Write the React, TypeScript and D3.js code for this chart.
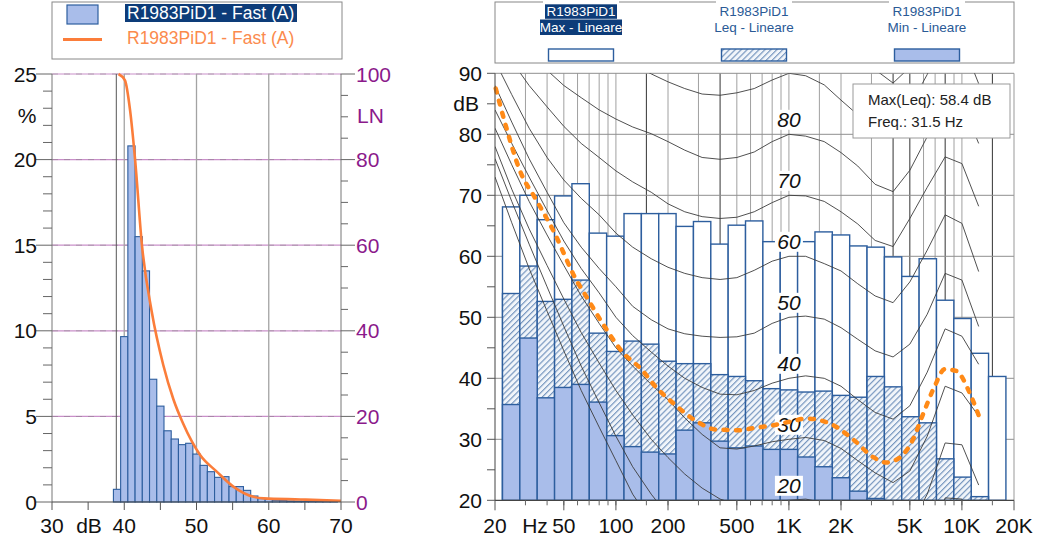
import React, { useEffect, useRef } from "react"
import * as d3 from "d3"

// ---- left chart: level distribution (Fast A) ----
const histLevels = [39, 40, 41, 42, 43, 44, 45, 46, 47, 48, 49, 50, 51, 52, 53, 54, 55, 56, 57, 58, 59, 60, 61, 62, 63, 64, 65, 66, 67, 68, 69]
const histPercent = [0.74, 9.66, 20.8, 15.5, 13.5, 7.17, 5.6, 4.16, 3.68, 3.35, 3.43, 2.8, 2.14, 1.77, 1.44, 1.48, 0.9, 0.9, 0.68, 0.35, 0.2, 0.15, 0.1, 0.08, 0.06, 0.05, 0.04, 0.03, 0.03, 0.02, 0.02]
const lnLevels = [39.2, 40.1, 40.8, 41.5, 42.45, 43.8, 45.4, 46.8, 48.1, 50.5, 52.8, 55.1, 57.9, 59.3, 64.4, 70]
const lnValues = [100, 98.5, 91.6, 80, 60, 44.5, 32, 24, 18.5, 11, 7.1, 3.6, 1.2, 0.85, 0.6, 0.3]
const minLevelMarker = 38.9
const pctTicks = [0, 5, 10, 15, 20, 25]
const lnTicks = [0, 20, 40, 60, 80, 100]
const dbTicks = [30, 40, 50, 60, 70]

// ---- right chart: 1/3 octave spectrum ----
const bandLabels = ["25", "31.5", "40", "50", "63", "80", "100", "125", "160", "200", "250", "315", "400", "500", "630", "800", "1K", "1.25K", "1.6K", "2K", "2.5K", "3.15K", "4K", "5K", "6.3K", "8K", "10K", "12.5K", "16K"]
const maxLevels = [68.1, 70.0, 66.0, 69.9, 71.9, 63.8, 63.3, 67.0, 67.0, 67.0, 64.9, 65.7, 62.0, 65.1, 65.8, 62.4, 62.2, 62.4, 64.0, 63.5, 61.7, 61.5, 59.9, 56.7, 59.6, 52.8, 49.8, 44.1, 40.3]
const leqLevels = [53.9, 58.4, 52.6, 52.95, 56.1, 47.4, 44.4, 46.1, 45.6, 42.8, 42.4, 42.4, 40.6, 40.3, 39.6, 38.3, 38.1, 37.75, 37.9, 37.2, 36.9, 40.3, 38.6, 33.7, 32.7, 26.8, 23.8, 20.6, 19.5]
const minLevels = [35.7, 46.6, 36.8, 38.5, 39.0, 36.1, 30.6, 28.8, 27.9, 27.6, 31.5, 32.7, 29.7, 28.6, 28.9, 28.35, 28.35, 27.1, 25.5, 23.7, 21.5, 20.3, 19, 19, 19, 19, 19, 19, 19]

// dashed reference curve
const refFreqs = [20.2, 23.2, 27.8, 34.7, 43.3, 60.4, 64.5, 84.2, 110, 140, 171, 219, 291, 380, 519, 637, 774, 1056, 1260, 1720, 2346, 3062, 3654, 4368, 5216, 5957, 6960, 7952, 9280, 11090, 12660]
const refLevels = [87.5, 81.2, 74.1, 69.2, 64.3, 55.6, 54.3, 48.9, 44.2, 41.5, 38.5, 35.7, 33.0, 31.6, 31.5, 31.9, 32.2, 33.0, 33.4, 32.6, 30.0, 27.1, 26.2, 27.0, 30.0, 34.1, 38.7, 41.5, 41.2, 37.6, 33.5]

// isophones
const isoFreqs = [20, 25, 31.5, 40, 50, 63, 80, 100, 125, 160, 200, 250, 315, 400, 500, 630, 800, 1000, 1250, 1600, 2000, 2500, 3150, 4000, 5000, 6300, 8000, 10000, 12500]
const phon0 = [73, 65.5, 58, 51, 44.5, 38, 32, 26.5, 21, 16.5, 13, 10.5, 8, 6, 4.5, 3, 2, 1, 0.5, 0, -1, -3, -5, -6, -4, 1, 11, 12, 9]
const phon10 = [76, 69, 62, 55, 48.5, 42, 36, 30.5, 25.5, 21, 17.5, 15, 12.5, 11, 10, 9.7, 9.8, 10, 10.2, 9.6, 8.3, 6, 4, 3, 5.5, 11.5, 20.4, 20.2, 12.5]
const phon20 = [78, 71, 64.5, 58.5, 53, 47.5, 42.5, 38, 34, 30, 27, 24.3, 22, 20.2, 19.3, 19.4, 19.8, 20, 20.2, 19.6, 18.3, 16, 14, 13, 15.5, 21, 29.4, 29.1, 22.5]
const phon30 = [81, 75, 69, 63.5, 58.5, 53.5, 49, 45, 42, 39, 36.5, 33.5, 30.8, 28.6, 28.4, 28.9, 29.6, 30, 30.3, 29.8, 28.5, 26.5, 24.5, 22.9, 24.8, 30.5, 38.7, 37.6, 33.8]
const phon40 = [84, 78.5, 73, 67.5, 62.5, 58, 54, 50, 47, 44.3, 42, 40, 38.5, 37.4, 37.3, 38, 39.2, 40, 40.4, 40, 38.7, 36.5, 34.4, 33.3, 35.5, 41, 48.1, 46.9, 42.3]
const phon50 = [88, 82, 76, 70.5, 65.5, 61.5, 58, 55, 51.8, 49.6, 48.1, 47.3, 46.9, 46.7, 46.8, 47.4, 49, 50, 50.2, 49.7, 48.3, 46.4, 44.5, 43.5, 45.6, 50.5, 57.2, 56.1, 48.5]
const phon60 = [92, 86.5, 81, 76.2, 72.5, 69.5, 66.8, 63.8, 61.5, 59.6, 58.2, 57.2, 56.5, 56.2, 56.5, 57.7, 59.2, 60, 60, 58.8, 57.6, 55.5, 53.5, 52.4, 55.8, 61, 66.8, 65.4, 57.5]
const phon70 = [96, 92, 88, 84.5, 81.3, 78.5, 76.2, 74, 72.2, 70.5, 68.6, 67.3, 66.5, 66.2, 66.4, 67.3, 68.8, 70, 69.9, 69, 67.3, 65.3, 62.6, 61.6, 66.2, 71.3, 76.3, 75.2, 68.2]
const phon80 = [100, 96, 93, 90.5, 88, 86, 84, 82.5, 81.2, 80.1, 78.8, 77.4, 76.2, 75.9, 76.2, 77.1, 78.8, 80, 79.7, 78.8, 77, 74.8, 71.8, 70.6, 74.1, 79.6, 86.3, 85.2, 78.5]
const phon90 = [104, 101, 99, 97, 95.5, 94.5, 93.5, 92.7, 91.5, 89.9, 88.6, 87.5, 86.6, 86.4, 86.8, 87.5, 88.9, 90, 89.6, 88.1, 85.6, 83.2, 81.5, 80.8, 84.6, 89.8, 96.3, 95.2, 88.3]
const phon100 = [108, 105, 103, 101, 100, 99, 98.5, 98, 97.5, 97, 96.5, 96, 95.8, 95.8, 96.2, 97, 98.8, 100, 99.6, 98.5, 96.5, 94, 90.6, 88.4, 91, 98, 105, 104, 98]
const isophones = [phon0, phon10, phon20, phon30, phon40, phon50, phon60, phon70, phon80, phon90, phon100]
const phonLabels = [20, 30, 40, 50, 60, 70, 80]

const gridFreqs = [30, 40, 50, 60, 70, 80, 90, 100, 150, 200, 300, 400, 500, 600, 700, 800, 900, 1000, 1500, 2000, 3000, 4000, 5000, 6000, 7000, 8000, 9000, 10000, 15000]
const darkGridFreqs = [150, 400, 4000, 5000, 8000, 15000]
const freqTickLabels = [[20, "20"], [50, "50"], [100, "100"], [200, "200"], [500, "500"], [1000, "1K"], [2000, "2K"], [5000, "5K"], [10000, "10K"], [20000, "20K"]]
const splTicks = [20, 30, 40, 50, 60, 70, 80, 90]

const FONT = "Liberation Sans, Arial, sans-serif"
const BAR_BLUE = "#a9bdea"
const EDGE_BLUE = "#2d5e9e"
const PURPLE = "#8b1a8b"
const LABEL_Y = 525

function drawLeft(svg: any) {
  const x = d3.scaleLinear().domain([30, 70]).range([52, 341])
  const y = d3.scaleLinear().domain([0, 25]).range([502, 74])
  const yLN = d3.scaleLinear().domain([0, 100]).range([502, 74])
  const g = svg.append("g").attr("font-family", FONT)

  // horizontal grid (purple + grey dashes)
  const hg = pctTicks.filter(d => d > 0)
  g.append("g").selectAll("line").data(hg).join("line")
    .attr("x1", x(30)).attr("x2", x(70)).attr("y1", (d: number) => y(d)).attr("y2", (d: number) => y(d))
    .attr("stroke", "#c98fc9").attr("stroke-width", 1.2)
  g.append("g").selectAll("line").data(hg).join("line")
    .attr("x1", x(30)).attr("x2", x(70)).attr("y1", (d: number) => y(d)).attr("y2", (d: number) => y(d))
    .attr("stroke", "#777").attr("stroke-width", 0.8).attr("stroke-dasharray", "6 6").attr("opacity", 0.55)

  // vertical grid
  g.append("g").selectAll("line").data([40, 50, 60]).join("line")
    .attr("x1", (d: number) => x(d)).attr("x2", (d: number) => x(d)).attr("y1", y(25)).attr("y2", y(0))
    .attr("stroke", "#a3a3a3").attr("stroke-width", 1.3)
  g.append("line").attr("x1", x(minLevelMarker)).attr("x2", x(minLevelMarker)).attr("y1", y(25)).attr("y2", y(0))
    .attr("stroke", "#555").attr("stroke-width", 1)

  // bars
  g.append("g").selectAll("rect").data(histLevels).join("rect")
    .attr("x", (d: number) => x(d - 0.5)).attr("width", (d: number) => x(d + 0.5) - x(d - 0.5))
    .attr("y", (d: number, i: number) => y(histPercent[i])).attr("height", (d: number, i: number) => y(0) - y(histPercent[i]))
    .attr("fill", BAR_BLUE).attr("stroke", EDGE_BLUE).attr("stroke-width", 1.1)

  // LN curve
  const line = d3.line<number>().x((d, i) => x(lnLevels[i])).y(d => yLN(d)).curve(d3.curveMonotoneX)
  g.append("path").attr("d", line(lnValues)).attr("fill", "none").attr("stroke", "#fb7d3a").attr("stroke-width", 2.6)

  // axes lines
  g.append("line").attr("x1", x(30)).attr("x2", x(30)).attr("y1", y(25)).attr("y2", y(0)).attr("stroke", "#777")
  g.append("line").attr("x1", x(70)).attr("x2", x(70)).attr("y1", y(25)).attr("y2", y(0)).attr("stroke", "#777")
  g.append("line").attr("x1", x(30)).attr("x2", x(70)).attr("y1", y(0)).attr("y2", y(0)).attr("stroke", "#444").attr("stroke-width", 1.2)

  // left ticks
  const minorPct = d3.range(0, 26)
  g.append("g").selectAll("line").data(minorPct).join("line")
    .attr("x1", (d: number) => (d % 5 === 0 ? x(30) - 16 : x(30) - 9)).attr("x2", x(30))
    .attr("y1", (d: number) => y(d)).attr("y2", (d: number) => y(d)).attr("stroke", "#666")
  g.append("g").selectAll("text").data(pctTicks).join("text")
    .attr("x", 37).attr("y", (d: number) => y(d)).attr("dy", "0.36em").attr("text-anchor", "end")
    .attr("font-size", 21).attr("fill", "#111").text((d: number) => d)
  g.append("text").attr("x", 27).attr("y", 115).attr("dy", "0.36em").attr("text-anchor", "middle")
    .attr("font-size", 21).attr("fill", "#111").text("%")

  // right ticks (LN)
  const minorLN = d3.range(0, 101, 5)
  g.append("g").selectAll("line").data(minorLN).join("line")
    .attr("x1", x(70)).attr("x2", (d: number) => (d % 20 === 0 ? x(70) + 14 : x(70) + 7))
    .attr("y1", (d: number) => yLN(d)).attr("y2", (d: number) => yLN(d)).attr("stroke", "#666")
  g.append("g").selectAll("text").data(lnTicks).join("text")
    .attr("x", 356).attr("y", (d: number) => yLN(d)).attr("dy", "0.36em")
    .attr("font-size", 21).attr("fill", PURPLE).text((d: number) => d)
  g.append("text").attr("x", 357).attr("y", 115).attr("dy", "0.36em")
    .attr("font-size", 21).attr("fill", PURPLE).text("LN")

  // bottom ticks
  g.append("g").selectAll("line").data(d3.range(30, 71, 5)).join("line")
    .attr("x1", (d: number) => x(d)).attr("x2", (d: number) => x(d)).attr("y1", y(0)).attr("y2", y(0) + 8).attr("stroke", "#555")
  g.append("g").selectAll("text").data(dbTicks).join("text")
    .attr("x", (d: number) => x(d)).attr("y", LABEL_Y).attr("dy", "0.36em").attr("text-anchor", "middle")
    .attr("font-size", 21).attr("fill", "#111").text((d: number) => d)
  g.append("text").attr("x", 89).attr("y", LABEL_Y).attr("dy", "0.36em").attr("text-anchor", "middle")
    .attr("font-size", 21).attr("fill", "#111").text("dB")

  // legend
  const lg = g.append("g")
  lg.append("rect").attr("x", 52).attr("y", 2).attr("width", 290).attr("height", 57).attr("fill", "#fff").attr("stroke", "#888")
  lg.append("rect").attr("x", 67).attr("y", 5).attr("width", 31).attr("height", 19).attr("fill", BAR_BLUE).attr("stroke", EDGE_BLUE).attr("stroke-width", 1.2)
  lg.append("rect").attr("x", 125).attr("y", 4).attr("width", 172).attr("height", 18).attr("fill", "#0d3c79")
  lg.append("text").attr("x", 127).attr("y", 13).attr("dy", "0.36em").attr("font-size", 17.5).attr("fill", "#fff").text("R1983PiD1 - Fast (A)")
  lg.append("line").attr("x1", 63).attr("x2", 102).attr("y1", 39.5).attr("y2", 39.5).attr("stroke", "#fb7d3a").attr("stroke-width", 3)
  lg.append("text").attr("x", 127).attr("y", 38).attr("dy", "0.36em").attr("font-size", 17.5).attr("fill", "#fb8a4c").text("R1983PiD1 - Fast (A)")
}

function drawRight(svg: any) {
  const x = d3.scaleLog().domain([20, 20000]).range([495, 1014])
  const y = d3.scaleLinear().domain([20, 90]).range([500.3, 73.3])
  const g = svg.append("g").attr("font-family", FONT)

  const defs = svg.append("defs")
  defs.append("clipPath").attr("id", "plotClip").append("rect")
    .attr("x", 495).attr("y", y(90)).attr("width", 519).attr("height", y(20) - y(90))
  const pat = defs.append("pattern").attr("id", "hatch").attr("patternUnits", "userSpaceOnUse")
    .attr("width", 4.2).attr("height", 4.2).attr("patternTransform", "rotate(45)")
  pat.append("rect").attr("width", 4.2).attr("height", 4.2).attr("fill", "#f1f5fa")
  pat.append("line").attr("x1", 0.6).attr("x2", 0.6).attr("y1", 0).attr("y2", 4.2).attr("stroke", "#6d8fbb").attr("stroke-width", 1.1)

  // grid
  g.append("g").selectAll("line").data(gridFreqs).join("line")
    .attr("x1", (d: number) => x(d)).attr("x2", (d: number) => x(d)).attr("y1", y(90)).attr("y2", y(20))
    .attr("stroke", (d: number) => (darkGridFreqs.includes(d) ? "#333" : "#a0a0a0")).attr("stroke-width", 1)
  g.append("g").selectAll("line").data([30, 40, 50, 60, 70, 80, 90]).join("line")
    .attr("x1", x(20)).attr("x2", x(20000)).attr("y1", (d: number) => y(d)).attr("y2", (d: number) => y(d))
    .attr("stroke", "#8f8f8f").attr("stroke-width", 1)
  g.append("line").attr("x1", x(20000)).attr("x2", x(20000)).attr("y1", y(90)).attr("y2", y(20)).attr("stroke", "#999")

  // bars: exact 1/3 octave band edges around 1 kHz (index 16)
  const lo = (i: number) => x(1000 * Math.pow(2, (i - 16) / 3 - 1 / 6))
  const hi = (i: number) => x(1000 * Math.pow(2, (i - 16) / 3 + 1 / 6))
  const bars = g.append("g").attr("clip-path", "url(#plotClip)")
  const layer = (vals: number[], fill: string) =>
    bars.append("g").selectAll("rect").data(bandLabels).join("rect")
      .attr("x", (d: string, i: number) => lo(i)).attr("width", (d: string, i: number) => hi(i) - lo(i))
      .attr("y", (d: string, i: number) => y(Math.max(vals[i], 20))).attr("height", (d: string, i: number) => y(20) - y(Math.max(vals[i], 20)))
      .attr("fill", fill).attr("stroke", EDGE_BLUE).attr("stroke-width", 1.4)
  layer(maxLevels, "#fff")
  layer(leqLevels, "url(#hatch)")
  layer(minLevels, BAR_BLUE)

  // isophones
  const iso = d3.line<number>().x((d, i) => x(isoFreqs[i])).y(d => y(d))
  g.append("g").attr("clip-path", "url(#plotClip)").selectAll("path").data(isophones).join("path")
    .attr("d", (d: number[]) => iso(d)).attr("fill", "none").attr("stroke", "#3c3c3c").attr("stroke-width", 0.9)

  // phon labels
  const pl = g.append("g").selectAll("g").data(phonLabels).join("g")
    .attr("transform", (d: number) => `translate(${x(1000)},${y(d) - 14.5})`)
  pl.append("rect").attr("x", -14).attr("y", -10).attr("width", 28).attr("height", 20).attr("fill", "#fff")
  pl.append("text").attr("dy", "0.36em").attr("text-anchor", "middle").attr("font-size", 21)
    .attr("font-style", "italic").attr("fill", "#111").text((d: number) => d)

  // dashed reference curve
  const ref = d3.line<number>().x((d, i) => x(refFreqs[i])).y(d => y(d)).curve(d3.curveMonotoneX)
  g.append("path").attr("d", ref(refLevels)).attr("fill", "none").attr("stroke", "#ff8a17")
    .attr("stroke-width", 4.5).attr("stroke-dasharray", "4 8.5").attr("stroke-linecap", "round")

  // axes
  g.append("line").attr("x1", x(20)).attr("x2", x(20)).attr("y1", y(90)).attr("y2", y(20)).attr("stroke", "#444")
  g.append("line").attr("x1", x(20)).attr("x2", x(20000)).attr("y1", y(20)).attr("y2", y(20)).attr("stroke", "#444").attr("stroke-width", 1.2)
  g.append("g").selectAll("line").data(d3.range(20, 91, 5)).join("line")
    .attr("x1", x(20) - 8).attr("x2", x(20)).attr("y1", (d: number) => y(d)).attr("y2", (d: number) => y(d)).attr("stroke", "#555")
  g.append("g").selectAll("text").data(splTicks).join("text")
    .attr("x", 482).attr("y", (d: number) => y(d)).attr("dy", "0.36em").attr("text-anchor", "end")
    .attr("font-size", 21).attr("fill", "#111").text((d: number) => d)
  g.append("text").attr("x", 479).attr("y", 103).attr("dy", "0.36em").attr("text-anchor", "end")
    .attr("font-size", 21).attr("fill", "#111").text("dB")
  g.append("g").selectAll("line").data(gridFreqs).join("line")
    .attr("x1", (d: number) => x(d)).attr("x2", (d: number) => x(d)).attr("y1", y(20)).attr("y2", y(20) + 5).attr("stroke", "#666")
  g.append("g").selectAll("line").data(freqTickLabels).join("line")
    .attr("x1", (d: any) => x(d[0])).attr("x2", (d: any) => x(d[0])).attr("y1", y(20)).attr("y2", y(20) + 10).attr("stroke", "#555")
  g.append("g").selectAll("text").data(freqTickLabels).join("text")
    .attr("x", (d: any) => x(d[0])).attr("y", LABEL_Y).attr("dy", "0.36em").attr("text-anchor", "middle")
    .attr("font-size", 21).attr("fill", "#111").text((d: any) => d[1])
  g.append("text").attr("x", 535).attr("y", LABEL_Y).attr("dy", "0.36em").attr("text-anchor", "middle")
    .attr("font-size", 21).attr("fill", "#111").text("Hz")

  // tooltip
  g.append("rect").attr("x", 853).attr("y", 84).attr("width", 157).attr("height", 54).attr("fill", "#fff").attr("stroke", "#9a9a9a")
  g.append("text").attr("x", 868).attr("y", 100).attr("dy", "0.36em").attr("font-size", 15).attr("fill", "#222")
    .text(`Max(Leq): ${d3.max(leqLevels)} dB`)
  g.append("text").attr("x", 868).attr("y", 121.5).attr("dy", "0.36em").attr("font-size", 15).attr("fill", "#222")
    .text(`Freq.: ${bandLabels[leqLevels.indexOf(d3.max(leqLevels) as number)]} Hz`)

  // legend
  const lg = g.append("g")
  lg.append("rect").attr("x", 495).attr("y", 2).attr("width", 519).attr("height", 61).attr("fill", "#fff").attr("stroke", "#888")
  const items = [
    { cx: 581, name: "Max - Lineare", fill: "#fff", sel: true },
    { cx: 754, name: "Leq - Lineare", fill: "url(#hatch)", sel: false },
    { cx: 927, name: "Min - Lineare", fill: BAR_BLUE, sel: false },
  ]
  items.forEach(it => {
    const w1 = 72, w2 = 82
    lg.append("rect").attr("x", it.cx - w1 / 2 - 2).attr("y", 0).attr("width", w1 + 4).attr("height", 19).attr("fill", "#fff")
    if (it.sel) {
      lg.append("rect").attr("x", it.cx - w1 / 2).attr("y", 4.3).attr("width", w1).attr("height", 14.5).attr("fill", "#0d3c79")
      lg.append("rect").attr("x", it.cx - w2 / 2).attr("y", 19.5).attr("width", w2).attr("height", 15.5).attr("fill", "#0d3c79")
    }
    const col = it.sel ? "#fff" : "#2a5a96"
    lg.append("text").attr("x", it.cx).attr("y", 11.5).attr("dy", "0.36em").attr("text-anchor", "middle")
      .attr("font-size", 13.5).attr("fill", col).text("R1983PiD1")
    lg.append("text").attr("x", it.cx).attr("y", 27).attr("dy", "0.36em").attr("text-anchor", "middle")
      .attr("font-size", 13.5).attr("fill", col).text(it.name)
    lg.append("rect").attr("x", it.cx - 32.5).attr("y", 49).attr("width", 65).attr("height", 12)
      .attr("fill", it.fill).attr("stroke", EDGE_BLUE).attr("stroke-width", 1.4)
  })
}

export default function App() {
  const ref = useRef<SVGSVGElement>(null)
  useEffect(() => {
    const svg = d3.select(ref.current)
    svg.selectAll("*").remove()
    drawLeft(svg)
    drawRight(svg)
  }, [])
  return (
    <div style={{ position: "absolute", left: 0, top: 0 }}>
      <svg ref={ref} width={1046} height={537} style={{ display: "block", background: "#fff" }}></svg>
    </div>
  )
}
